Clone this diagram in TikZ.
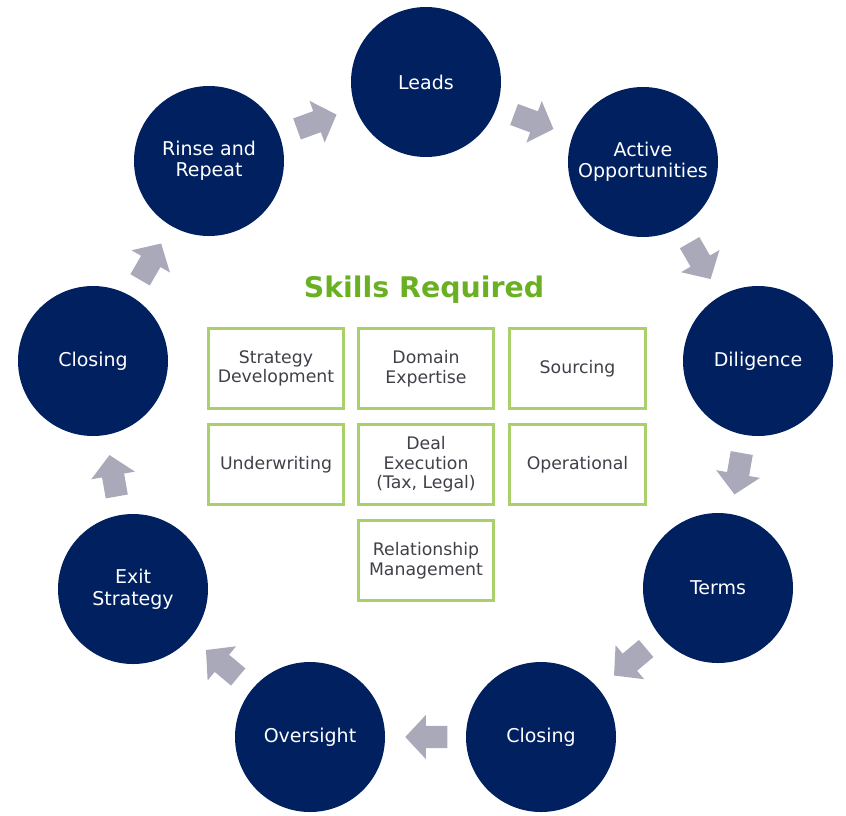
\documentclass[tikz,border=0pt]{standalone}
\usepackage{fontspec}
\setmainfont{DejaVu Sans}
\usetikzlibrary{shapes.arrows,positioning}
\definecolor{navy}{HTML}{002060}
\definecolor{arrowgray}{HTML}{A9A9B9}
\definecolor{skillgreen}{HTML}{6AB023}
\definecolor{boxgreen}{HTML}{A9D06B}
\definecolor{boxtext}{HTML}{404048}

\tikzset{
  stage/.style={circle, fill=navy, minimum size=150pt, inner sep=0pt, text=white,
    align=center, font=\fontsize{19}{21.5}\selectfont},
  skill/.style={draw=boxgreen, line width=2.6pt, minimum width=135.5pt, minimum height=80.5pt,
    inner sep=0pt, align=center, text=boxtext, font=\fontsize{17.3}{19.5}\selectfont},
  flow/.style={single arrow, fill=arrowgray, draw=none, inner xsep=0pt, inner ysep=11pt,
    minimum height=42pt, single arrow head extend=11pt,
    single arrow tip angle=94, sloped, allow upside down, midway, xshift=-6pt}
}

\begin{document}
\begin{tikzpicture}[x=1pt, y=-1pt]
  \useasboundingbox (0,0) rectangle (846,815);

  % Cycle stages
  \node[stage] (leads) at (426,82) {Leads};
  \node[stage] (active) at (643,162) {Active\\Opportunities};
  \node[stage] (dilig) at (758,361) {Diligence};
  \node[stage] (terms) at (718,588) {Terms};
  \node[stage] (closeA) at (541,737) {Closing};
  \node[stage] (oversight) at (310,737) {Oversight};
  \node[stage] (exit) at (133,589) {Exit\\Strategy};
  \node[stage] (closeB) at (93,361) {Closing};
  \node[stage] (rinse) at (209,161) {Rinse and\\Repeat};

  % Arrows between stages
  \path (rinse) -- (leads) node[flow] (fl1) {};
  \path (leads) -- (active) node[flow] (fl2) {};
  \path (active) -- (dilig) node[flow] (fl3) {};
  \path (dilig) -- (terms) node[flow] (fl4) {};
  \path (terms) -- (closeA) node[flow] (fl5) {};
  \path (closeA) -- (oversight) node[flow] (fl6) {};
  \path (oversight) -- (exit) node[flow] (fl7) {};
  \path (exit) -- (closeB) node[flow] (fl8) {};
  \path (closeB) -- (rinse) node[flow] (fl9) {};

  % Skills grid
  \node[font=\fontsize{28.4}{32}\selectfont\bfseries, text=skillgreen] (title) at (424,290) {Skills Required};
  \node[skill] (strat) at (276,368.5) {Strategy\\Development};
  \node[skill] (domain) at (426,368.5) {Domain\\Expertise};
  \node[skill] (sourcing) at (577.5,368.5) {Sourcing};
  \node[skill] (underw) at (276,464.5) {Underwriting};
  \node[skill] (deal) at (426,464.5) {Deal\\Execution\\(Tax, Legal)};
  \node[skill] (oper) at (577.5,464.5) {Operational};
  \node[skill] (relat) at (426,560.5) {Relationship\\Management};
\end{tikzpicture}
\end{document}
